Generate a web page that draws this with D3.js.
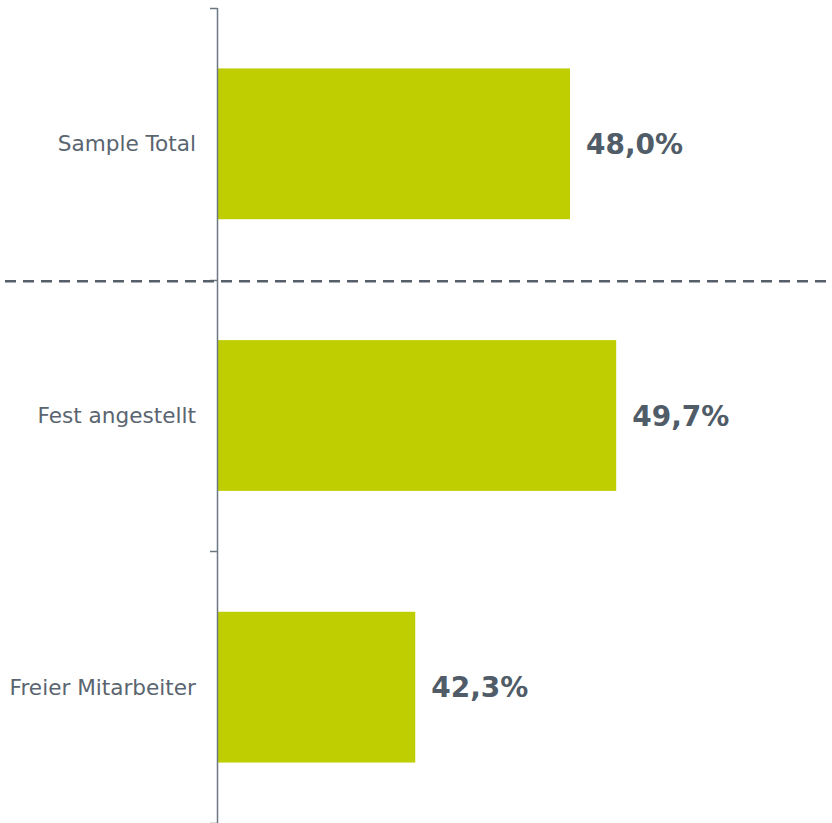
<!DOCTYPE html>
<html>
<head>
<meta charset="utf-8">
<script src="https://cdn.jsdelivr.net/npm/d3@7"></script>
<style>
  html, body { margin: 0; padding: 0; background: #ffffff; }
  svg { display: block; }
</style>
</head>
<body>
<svg id="chart" width="832" height="823"></svg>
<script>
const categories = ["Sample Total", "Fest angestellt", "Freier Mitarbeiter"];
const values = [48.0, 49.7, 42.3];
const valueLabels = ["48,0%", "49,7%", "42,3%"];
const xDomain = [35, 57.5];

const svg = d3.select("#chart");
const axisX = 217;

const y = d3.scaleBand()
  .domain(categories)
  .range([8, 823])
  .paddingInner(0.445)
  .paddingOuter(0.2225);

const x = d3.scaleLinear()
  .domain(xDomain)
  .range([axisX, 828]);

// bars
svg.selectAll("rect.bar")
  .data(categories)
  .enter().append("rect")
  .attr("class", "bar")
  .attr("x", x(xDomain[0]))
  .attr("y", d => y(d))
  .attr("width", (d, i) => x(values[i]) - x(xDomain[0]))
  .attr("height", y.bandwidth())
  .attr("fill", "#bfce00");

// band boundaries for ticks
const step = y.step();
const bandStart = y(categories[0]) - y.paddingOuter() * step;
const boundaries = d3.range(categories.length + 1).map(i => bandStart + i * step);

// axis line
svg.append("line")
  .attr("x1", axisX + 0.5).attr("x2", axisX + 0.5)
  .attr("y1", boundaries[0]).attr("y2", boundaries[boundaries.length - 1])
  .attr("stroke", "#6e7883").attr("stroke-width", 1.5);

svg.selectAll("line.tick")
  .data(boundaries)
  .enter().append("line")
  .attr("class", "tick")
  .attr("x1", axisX - 7).attr("x2", axisX + 0.5)
  .attr("y1", d => Math.round(d) + 0.5).attr("y2", d => Math.round(d) + 0.5)
  .attr("stroke", "#6e7883").attr("stroke-width", 1.5);

// dashed separator between first and second band
svg.append("line")
  .attr("x1", 5).attr("x2", 832)
  .attr("y1", boundaries[1] + 1.5).attr("y2", boundaries[1] + 1.5)
  .attr("stroke", "#565f6a")
  .attr("stroke-width", 2.5)
  .attr("stroke-dasharray", "11,7");

// category labels
svg.selectAll("text.cat")
  .data(categories)
  .enter().append("text")
  .attr("class", "cat")
  .attr("x", axisX - 21)
  .attr("y", d => y(d) + y.bandwidth() / 2)
  .attr("dy", "0.35em")
  .attr("text-anchor", "end")
  .attr("font-family", "'DejaVu Sans', Verdana, sans-serif")
  .attr("font-size", 21.6)
  .attr("fill", "#5a6570")
  .text(d => d);

// value labels
svg.selectAll("text.val")
  .data(categories)
  .enter().append("text")
  .attr("class", "val")
  .attr("x", (d, i) => x(values[i]) + 16)
  .attr("y", d => y(d) + y.bandwidth() / 2)
  .attr("dy", "0.36em")
  .attr("text-anchor", "start")
  .attr("font-family", "'DejaVu Sans', Verdana, sans-serif")
  .attr("font-weight", "bold")
  .attr("font-size", 28)
  .attr("fill", "#505c67")
  .text((d, i) => valueLabels[i]);
</script>
</body>
</html>
